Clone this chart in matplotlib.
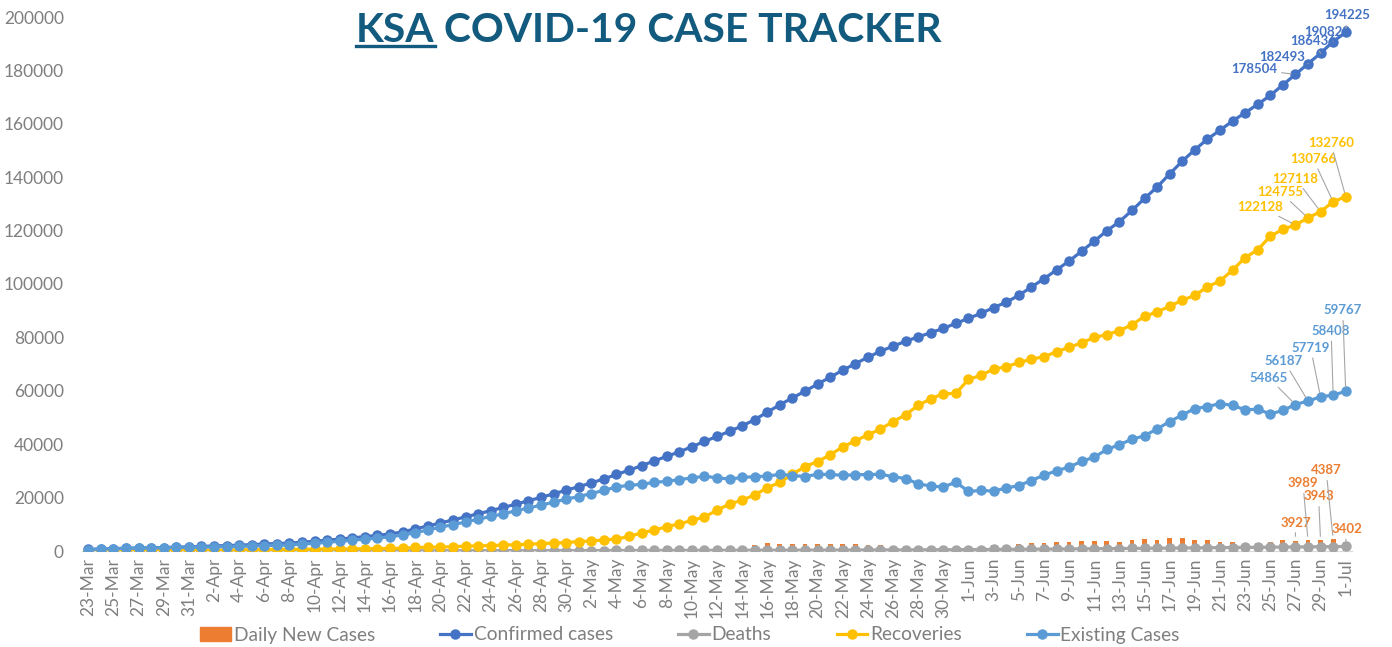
import matplotlib
matplotlib.use('Agg')
import matplotlib.pyplot as plt
from matplotlib.lines import Line2D
from matplotlib.patches import Patch
import pandas as pd

# daily dates 23-Mar .. 1-Jul
dates = pd.date_range('2020-03-23', '2020-07-01')
date_labels = [f'{d.day}-{d.strftime("%b")}' for d in dates]

confirmed = [562, 767, 900, 1012, 1104, 1203, 1299, 1453, 1563,
             1720, 1885, 2039, 2179, 2402, 2605, 2795, 2932, 3287, 3651, 4033, 4462, 4934, 5369, 5862,
             6380, 7142, 8274, 9362, 10484, 11631, 12772, 13930, 15102, 16299, 17522, 18811, 20077, 21402, 22753,
             24097, 25459, 27011, 28656, 30251, 31938, 33731, 35432, 37136, 39048, 41014, 42925, 44830, 46869,
             49176, 52016, 54752, 57345, 59854, 62545, 65077, 67719, 70161, 72560, 74795, 76726, 78541, 80185,
             81766, 83384, 85261,
             87142, 89011, 91182, 93157, 95748, 98869, 101914, 105283, 108571, 112288, 116021, 119942, 123308,
             127541, 132048, 136315, 141234, 145991, 150292, 154233, 157612, 161005, 164144, 167267, 170639,
             174577, 178504, 182493, 186436, 190823,
             194225]

deaths = [0, 1, 3, 4, 4, 4, 8, 8, 10,
          16, 21, 25, 29, 34, 38, 41, 41, 44, 47, 52, 59, 65, 73, 79, 83, 87, 92, 97, 103, 109, 114, 121, 127,
          136, 139, 144, 152, 157, 162,
          169, 176, 184, 191, 200, 209, 219, 229, 239, 246, 255, 264, 273, 283, 292, 302, 312, 320, 329, 339,
          351, 364, 379, 390, 399, 411, 425, 441, 458, 480, 503,
          525, 549, 579, 611, 642, 676, 712, 746, 783, 819, 857, 893, 932, 972, 1011, 1052, 1091, 1139, 1184,
          1230, 1267, 1307, 1346, 1387, 1428, 1474, 1511, 1551, 1599, 1649,
          1698]

recoveries = [19, 28, 29, 33, 35, 37, 66, 115, 165,
              264, 328, 351, 420, 488, 551, 615, 631, 666, 685, 720, 761, 805, 889, 931, 990, 1049, 1329, 1398,
              1490, 1640, 1812, 1925, 2049, 2215, 2357, 2531, 2784, 2953, 3163,
              3555, 3765, 4134, 4476, 5431, 6783, 7798, 9120, 10144, 11457, 12737, 15257, 17622, 19051, 21011,
              23666, 25722, 28748, 31634, 33478, 36040, 39003, 41236, 43520, 45668, 48450, 51022, 54553, 57013,
              58883, 59000,
              64306, 65790, 68159, 68965, 70616, 71791, 72817, 74524, 76339, 77900, 80019, 81029, 82548, 84720,
              87890, 89540, 91664, 93915, 95764, 98917, 101130, 105175, 109885, 112797, 117882, 120471, 122128,
              124755, 127118, 130766,
              132760]

existing = [543, 738, 868, 975, 1065, 1162, 1225, 1330, 1388,
            1440, 1536, 1663, 1730, 1880, 2016, 2139, 2260, 2577, 2919, 3261, 3642, 4064, 4407, 4852, 5307,
            6006, 6853, 7867, 8891, 9882, 10846, 11884, 12926, 13948, 15026, 16136, 17141, 18292, 19428,
            20373, 21518, 22693, 23989, 24620, 24946, 25714, 26083, 26753, 27345, 28022, 27404, 26935, 27535,
            27873, 28048, 28718, 28277, 27891, 28728, 28686, 28352, 28546, 28650, 28728, 27865, 27094, 25191,
            24295, 24021, 25758,
            22311, 22672, 22444, 23581, 24490, 26402, 28385, 30013, 31449, 33569, 35145, 38020, 39828, 41849,
            43147, 45723, 48479, 50937, 53344, 54086, 55215, 54523, 52913, 53083, 51329, 52632, 54865, 56187,
            57719, 58408,
            59767]

daily_new = [51, 205, 133, 112, 92, 99, 96, 154, 110,
             157, 165, 154, 140, 223, 203, 190, 137, 355, 364, 382, 429, 472, 435, 493, 518, 762, 1132, 1088,
             1122, 1147, 1141, 1158, 1172, 1197, 1223, 1289, 1266, 1325, 1351,
             1344, 1362, 1552, 1645, 1595, 1687, 1793, 1701, 1704, 1912, 1966, 1911, 1905, 2039, 2307, 2840,
             2736, 2593, 2509, 2691, 2532, 2642, 2442, 2399, 2235, 1931, 1815, 1644, 1581, 1618, 1877,
             1881, 1869, 2171, 1975, 2591, 3121, 3045, 3369, 3288, 3717, 3733, 3921, 3366, 4233, 4507, 4267,
             4919, 4757, 4301, 3941, 3379, 3393, 3139, 3123, 3372, 3938, 3927, 3989, 3943, 4387,
             3402]

C_NEW = '#ED7D31'
C_CONF = '#4472C4'
C_DEATH = '#A5A5A5'
C_REC = '#FFC000'
C_EXIST = '#5B9BD5'
GREY = '#7f7f7f'
FONT = 'Lato'

plt.rcParams['font.family'] = [FONT, 'DejaVu Sans']

fig = plt.figure(figsize=(13.92, 6.47), dpi=100)
ax = fig.add_axes([82 / 1392, 1 - 551 / 647, (1352 - 82) / 1392, (551 - 17) / 647])

x = list(range(len(date_labels)))
ax.bar(x, daily_new, width=0.38, color=C_NEW, zorder=1)
line_kw = dict(marker='o', markersize=6.5, linewidth=2.3)
ax.plot(x, confirmed, color=C_CONF, zorder=2, **line_kw)
ax.plot(x, deaths, color=C_DEATH, zorder=3, **line_kw)
ax.plot(x, recoveries, color=C_REC, zorder=4, **line_kw)
ax.plot(x, existing, color=C_EXIST, zorder=5, **line_kw)

ax.set_xlim(-0.5, len(x) - 0.5)
ax.set_ylim(0, 200000)
ax.set_yticks(range(0, 200001, 20000))
ax.set_xticks(x[::2])
ax.set_xticklabels(date_labels[::2], rotation=90)
ax.tick_params(axis='both', length=0, colors=GREY, labelsize=12.5)
ax.tick_params(axis='y', pad=13)
ax.tick_params(axis='x', pad=5)
for s in ['top', 'right', 'left']:
    ax.spines[s].set_visible(False)
ax.spines['bottom'].set_color('#D9D9D9')

# data labels on the last five days, (dx, dy) in pixels
lbl_kw = dict(textcoords='offset pixels', ha='center', va='center', fontsize=9.5,
              fontweight='bold', annotation_clip=False,
              arrowprops=dict(arrowstyle='-', color='#A6A6A6', lw=0.8, shrinkA=1, shrinkB=3))
label_sets = [
    (confirmed, C_CONF, [(-41, 5), (-26, 7), (-7, 12), (-6, 10), (1, 17)]),
    (recoveries, C_REC, [(-35, 18), (-28, 26), (-25, 33), (-20, 43), (-15, 54)]),
    (existing, C_EXIST, [(-27, 27), (-24, 40), (-10, 49), (-2, 64), (-3, 81)]),
    (daily_new, C_NEW, [(0, 18), (-5, 57), (-2, 44), (-7, 69), (1, 13)]),
]
for series, col, offs in label_sets:
    for k, (dx, dy) in enumerate(offs):
        i = len(series) - 5 + k
        ax.annotate(str(series[i]), xy=(i, series[i]), xytext=(dx, dy), color=col, zorder=6, **lbl_kw)

# legend
handles = [Patch(color=C_NEW),
           Line2D([], [], color=C_CONF, **line_kw),
           Line2D([], [], color=C_DEATH, **line_kw),
           Line2D([], [], color=C_REC, **line_kw),
           Line2D([], [], color=C_EXIST, **line_kw)]
names = ['Daily New Cases', 'Confirmed cases', 'Deaths', 'Recoveries', 'Existing Cases']
leg = fig.legend(handles, names, loc='center', bbox_to_anchor=(690 / 1392, 1 - 635 / 647), ncol=5,
                 frameon=False, fontsize=13.8, handlelength=1.6, handletextpad=0.15, columnspacing=3.4)
for t in leg.get_texts():
    t.set_color(GREY)

# title with underlined KSA
TITLE_C = '#125A7E'
t_y = 1 - 42 / 647
t1 = fig.text(356 / 1392, t_y, 'KSA', color=TITLE_C, fontsize=29.3, fontweight='bold', va='baseline')
fig.canvas.draw()
r = fig.canvas.get_renderer()
bb1 = t1.get_window_extent(r)
t2 = fig.text(bb1.x1 / 1392, t_y, ' COVID-19 CASE TRACKER', color=TITLE_C, fontsize=29.3,
              fontweight='bold', va='baseline')
uy = 1 - 46 / 647
fig.add_artist(Line2D([bb1.x0 / 1392, bb1.x1 / 1392], [uy, uy], color=TITLE_C, lw=2.4))

fig.savefig('out.png', dpi=100)
